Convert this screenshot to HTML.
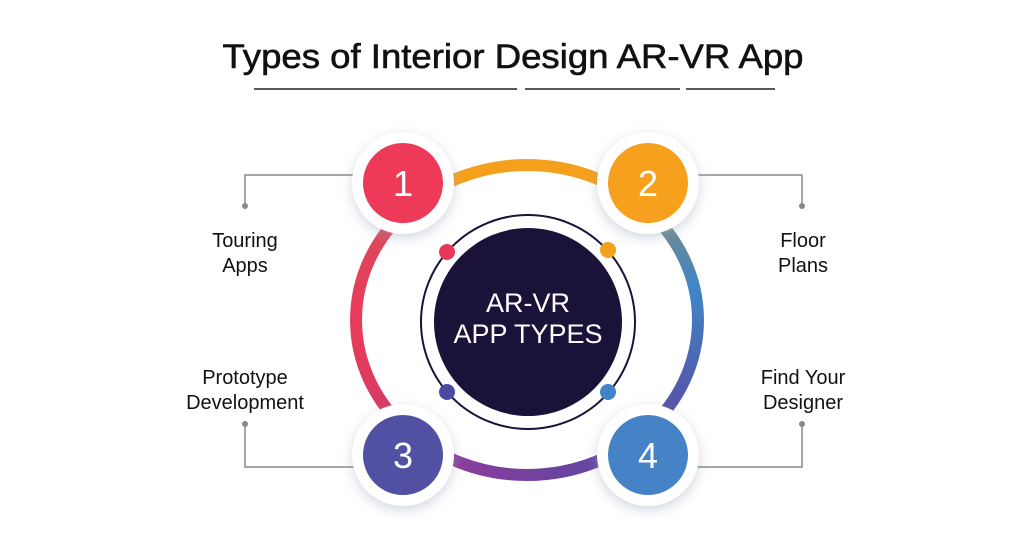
<!DOCTYPE html>
<html><head><meta charset="utf-8"><style>
html,body{margin:0;padding:0;background:#fff}
svg{display:block}
</style></head><body>
<svg width="1024" height="535" viewBox="0 0 1024 535" xmlns="http://www.w3.org/2000/svg">
<defs>
<linearGradient id="gr" x1="0" y1="0" x2="0" y2="1">
<stop offset="0" stop-color="#7a8a80"/><stop offset="0.35" stop-color="#3f86c8"/><stop offset="1" stop-color="#5a4aa2"/></linearGradient>
<linearGradient id="gb" x1="0" y1="0" x2="1" y2="0">
<stop offset="0" stop-color="#9a3a9a"/><stop offset="1" stop-color="#5248a4"/></linearGradient>
<linearGradient id="gl" x1="0" y1="0" x2="0" y2="1">
<stop offset="0" stop-color="#d84a58"/><stop offset="0.5" stop-color="#ea3c5c"/><stop offset="1" stop-color="#d43a64"/></linearGradient>
<filter id="sh" x="-50%" y="-50%" width="200%" height="200%"><feDropShadow dx="0" dy="4" stdDeviation="6" flood-color="#9aa6c0" flood-opacity="0.45"/></filter>
</defs>
<text x="513" y="68" text-anchor="middle" font-family="Liberation Sans, sans-serif" font-size="34" fill="#111" stroke="#111" stroke-width="0.6" textLength="581" lengthAdjust="spacingAndGlyphs">Types of Interior Design AR-VR App</text>
<g stroke="#222" stroke-width="1.5">
<line x1="254" y1="89" x2="517" y2="89"/><line x1="525" y1="89" x2="680" y2="89"/><line x1="686" y1="89" x2="775" y2="89"/></g>
<g stroke="#888" stroke-width="1.5" fill="none">
<polyline points="355,175 245,175 245,205"/><polyline points="697,175 802,175 802,205"/>
<polyline points="245,425 245,467 355,467"/><polyline points="802,425 802,467 697,467"/>
</g>
<g fill="#888"><circle cx="245" cy="206" r="3"/><circle cx="802" cy="206" r="3"/><circle cx="245" cy="424" r="3"/><circle cx="802" cy="424" r="3"/></g>
<g fill="none" stroke-width="12">
<path d="M 406.1 210.4 A 171 155 0 0 1 647.9 210.4" stroke="#f5a01c"/>
<path d="M 647.9 210.4 A 171 155 0 0 1 647.9 429.6" stroke="url(#gr)"/>
<path d="M 647.9 429.6 A 171 155 0 0 1 406.1 429.6" stroke="url(#gb)"/>
<path d="M 406.1 429.6 A 171 155 0 0 1 406.1 210.4" stroke="url(#gl)"/>
</g>
<circle cx="528" cy="322" r="107" fill="none" stroke="#1a1238" stroke-width="2"/>
<circle cx="528" cy="322" r="94" fill="#1a1238"/>
<text x="528" y="312" text-anchor="middle" font-family="Liberation Sans, sans-serif" font-size="27" fill="#fff">AR-VR</text>
<text x="528" y="343" text-anchor="middle" font-family="Liberation Sans, sans-serif" font-size="27" fill="#fff">APP TYPES</text>
<circle cx="447" cy="252" r="8" fill="#e8385a"/><circle cx="608" cy="250" r="8" fill="#f5a01c"/>
<circle cx="447" cy="392" r="8" fill="#4b4aa0"/><circle cx="608" cy="392" r="8" fill="#4283c8"/>
<g filter="url(#sh)" fill="#fff">
<circle cx="403" cy="183" r="51"/><circle cx="648" cy="183" r="51"/><circle cx="403" cy="455" r="51"/><circle cx="648" cy="455" r="51"/></g>
<circle cx="403" cy="183" r="40" fill="#ec3a58"/><circle cx="648" cy="183" r="40" fill="#f7a01e"/>
<circle cx="403" cy="455" r="40" fill="#5250a2"/><circle cx="648" cy="455" r="40" fill="#4683c6"/>
<g font-family="Liberation Sans, sans-serif" font-size="36" fill="#fff" text-anchor="middle">
<text x="403" y="196">1</text><text x="648" y="196">2</text><text x="403" y="468">3</text><text x="648" y="468">4</text></g>
<g font-family="Liberation Sans, sans-serif" font-size="20" fill="#111" text-anchor="middle">
<text x="245" y="247">Touring</text><text x="245" y="272">Apps</text>
<text x="803" y="247">Floor</text><text x="803" y="272">Plans</text>
<text x="245" y="384">Prototype</text><text x="245" y="409">Development</text>
<text x="803" y="384">Find Your</text><text x="803" y="409">Designer</text>
</g>
</svg>
</body></html>
